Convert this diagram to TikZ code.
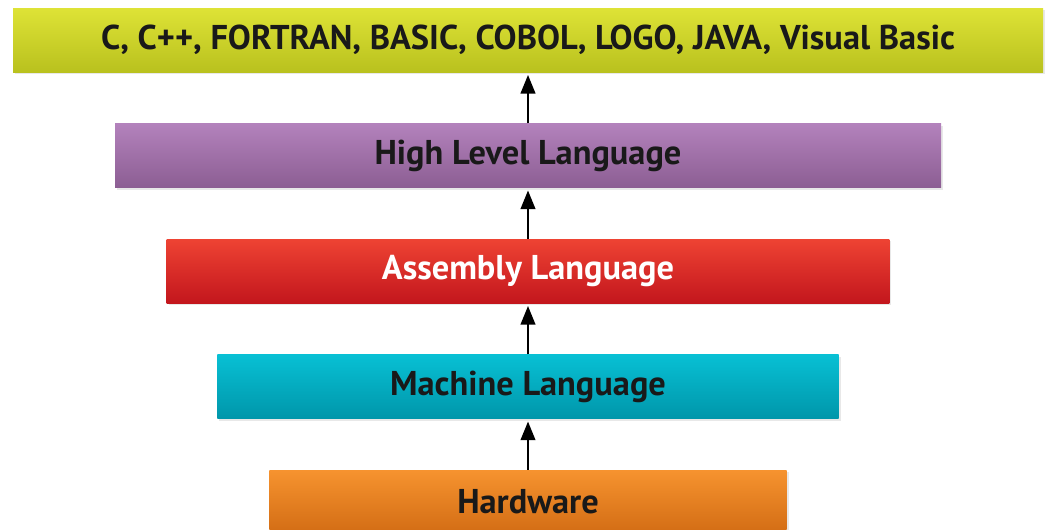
\documentclass[tikz,border=0pt]{standalone}
\usepackage{fontspec}
\setmainfont{PT Sans}
\usetikzlibrary{arrows.meta,positioning,shadows}

\definecolor{lime1}{HTML}{DEE336}
\definecolor{lime2}{HTML}{B9C11E}
\definecolor{purp1}{HTML}{B382BC}
\definecolor{purp2}{HTML}{8C5E93}
\definecolor{red1}{HTML}{EE4333}
\definecolor{red2}{HTML}{C3161D}
\definecolor{cyan1}{HTML}{08C0D4}
\definecolor{cyan2}{HTML}{0096AA}
\definecolor{orng1}{HTML}{F6932F}
\definecolor{orng2}{HTML}{D26C14}

\begin{document}
\begin{tikzpicture}[x=0.75pt,y=-0.75pt,node distance=38.25pt,
  layer/.style={inner sep=0pt,minimum height=48pt,font=\fontsize{25.8}{28}\selectfont\bfseries,text=black!90,
    drop shadow={opacity=0.18,shadow xshift=1.5pt,shadow yshift=-1.5pt}},
  arrow/.style={-{Triangle[length=14pt,width=11pt]},line width=1.6pt,shorten >=2pt}]
\useasboundingbox[fill=white] (0,0) rectangle (1049,529);
\node[layer,minimum width=772.5pt,top color=lime1,bottom color=lime2] (langs) at (528,40) {C, C++, FORTRAN, BASIC, COBOL, LOGO, JAVA, Visual Basic};
\node[layer,minimum width=619.5pt,top color=purp1,bottom color=purp2,below=of langs] (high) {High Level Language};
\node[layer,minimum width=542pt,top color=red1,bottom color=red2,text=white,below=of high] (asm) {Assembly Language};
\node[layer,minimum width=466pt,top color=cyan1,bottom color=cyan2,below=of asm] (mach) {Machine Language};
\node[layer,minimum width=388pt,top color=orng1,bottom color=orng2,below=of mach] (hw) {Hardware};
\draw[arrow] (high)--(langs); \draw[arrow] (asm)--(high);
\draw[arrow] (mach)--(asm); \draw[arrow] (hw)--(mach);
\end{tikzpicture}
\end{document}
